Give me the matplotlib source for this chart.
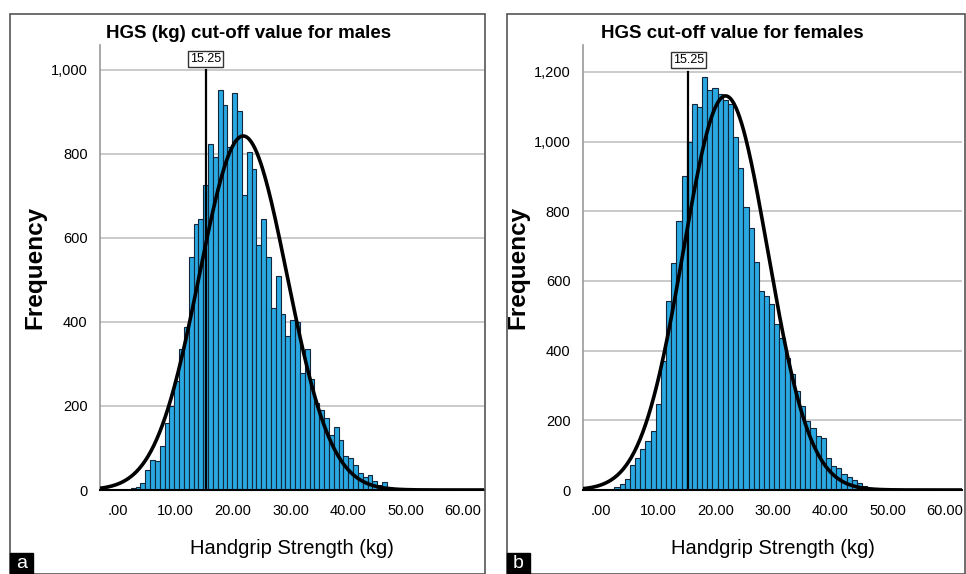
import numpy as np
import matplotlib
matplotlib.use("Agg")
import matplotlib.pyplot as plt
from matplotlib.patches import Rectangle

plt.rcParams['font.family'] = ['Liberation Sans', 'DejaVu Sans']

# ---------------- data ----------------
male_bin_width = 0.84
male_first_center = 2.65
male_counts = [5, 8, 16, 48, 72, 68, 104, 160, 200, 260, 335, 387, 555, 634, 645,
               725, 823, 793, 951, 917, 817, 945, 901, 701, 805, 765, 582, 645,
               555, 434, 510, 418, 367, 404, 400, 279, 335, 263, 207, 191, 171,
               131, 151, 120, 80, 76, 60, 40, 32, 36, 22, 12, 18, 8]
female_bin_width = 0.90
female_first_center = 2.8
female_counts = [9, 16, 31, 72, 93, 117, 141, 169, 248, 370, 543, 650, 772, 901,
                 999, 1107, 1100, 1186, 1147, 1155, 1136, 1119, 1109, 1012, 925,
                 811, 753, 653, 571, 557, 533, 476, 437, 380, 332, 284, 241, 198,
                 179, 155, 150, 93, 69, 64, 45, 37, 28, 21, 11, 7]
cutoff = 15.25
x_ticks = [0, 10, 20, 30, 40, 50, 60]
x_tick_labels = [".00", "10.00", "20.00", "30.00", "40.00", "50.00", "60.00"]
male_y_ticks = [0, 200, 400, 600, 800, 1000]
female_y_ticks = [0, 200, 400, 600, 800, 1000, 1200]
titles = ["HGS (kg) cut-off value for males", "HGS cut-off value for females"]
xlabel = "Handgrip Strength (kg)"
ylabel = "Frequency"
panel_letters = ["a", "b"]

W, H = 966, 574
fig = plt.figure(figsize=(W / 100, H / 100), dpi=100)
fig.patch.set_facecolor('white')


def px_axes(x0, y0, x1, y1):
    return fig.add_axes([x0 / W, 1 - y1 / H, (x1 - x0) / W, (y1 - y0) / H])


def draw_panel(ax, counts, first_center, bw, yticks, ylim, xlim, title, title_x,
               ylabel_x):
    counts = np.asarray(counts, dtype=float)
    centers = first_center + bw * np.arange(len(counts))
    ax.set_xlim(*xlim)
    ax.set_ylim(*ylim)
    ax.set_axisbelow(True)
    ax.yaxis.grid(True, color='#cacaca', lw=1.4)
    ax.bar(centers, counts, width=bw, color='#2aa8e2', edgecolor='#14263a',
           linewidth=0.8, zorder=2)
    # normal curve fitted to the binned data
    n = counts.sum()
    mu = (counts * centers).sum() / n
    sd = np.sqrt((counts * (centers - mu) ** 2).sum() / n)
    xs = np.linspace(xlim[0], xlim[1], 400)
    ys = n * bw / (sd * np.sqrt(2 * np.pi)) * np.exp(-0.5 * ((xs - mu) / sd) ** 2)
    ax.plot(xs, ys, color='black', lw=2.6, zorder=4, solid_capstyle='butt')
    # cut-off line
    ax.axvline(cutoff, ymin=0, ymax=(yticks[-1] * 1.0) / ylim[1], color='black',
               lw=1.6, zorder=5)
    ax.text(cutoff, yticks[-1] + (ylim[1] - yticks[-1]) * 0.45, f"{cutoff:.2f}",
            ha='center', va='center', fontsize=9, zorder=6,
            bbox=dict(boxstyle='square,pad=0.15', fc='white', ec='#333333', lw=1))
    ax.set_xticks(x_ticks)
    ax.set_xticklabels(x_tick_labels)
    ax.set_yticks(yticks)
    ax.set_yticklabels([f"{v:,}" for v in yticks])
    ax.tick_params(axis='x', length=0, labelsize=10.5, pad=10)
    ax.tick_params(axis='y', length=0, labelsize=10.5, pad=9)
    for s in ['top', 'right']:
        ax.spines[s].set_visible(False)
    ax.spines['left'].set_color('#999999')
    ax.spines['left'].set_linewidth(1.2)
    ax.spines['bottom'].set_color('black')
    ax.spines['bottom'].set_linewidth(1.5)
    ax.set_xlabel(xlabel, fontsize=14.5)
    ax.xaxis.set_label_coords(0.5, (490 - 549) / 445)
    ax.xaxis.label.set_va('center')
    ax.set_ylabel(ylabel, fontsize=17.5, fontweight='bold')
    ax.yaxis.set_label_coords(ylabel_x, 0.5)
    ax.yaxis.label.set_va('center')
    fig.text(title_x / W, 1 - 33 / H, title, fontsize=13.5, fontweight='bold',
             ha='left', va='center')


# left panel
ax1 = px_axes(100, 45, 484, 490)
draw_panel(ax1, male_counts, male_first_center, male_bin_width, male_y_ticks,
           (0, 1059), (-3.13, 63.65), titles[0], 106, (35 - 100) / 384)
# right panel
ax2 = px_axes(583, 45, 962, 490)
draw_panel(ax2, female_counts, female_first_center, female_bin_width,
           female_y_ticks, (0, 1277), (-3.14, 63.0), titles[1], 601,
           (518 - 583) / 379)

# panel borders and letters
for (x0, x1), letter in zip([(10, 485), (507, 965)], panel_letters):
    fig.patches.append(Rectangle((x0 / W, 0), (x1 - x0) / W, 1 - 14 / H,
                                 transform=fig.transFigure, fill=False,
                                 ec='#555555', lw=1.2))
    fig.patches.append(Rectangle((x0 / W, 0), 23 / W, 21 / H,
                                 transform=fig.transFigure, fc='black', ec='black'))
    fig.text((x0 + 11.5) / W, 10 / H, letter, color='white', fontsize=14,
             ha='center', va='center')

fig.savefig('out.png', dpi=100)
